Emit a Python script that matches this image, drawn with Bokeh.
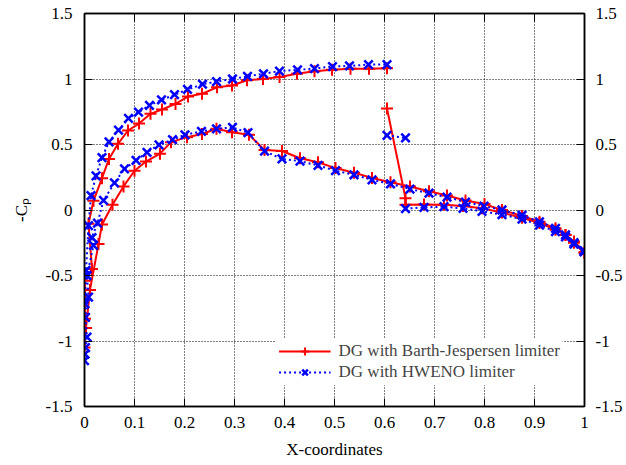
from bokeh.plotting import figure
from bokeh.models import LinearAxis, FixedTicker, Legend, LegendItem, Range1d
from bokeh.embed import file_html
from bokeh.resources import INLINE

nan = float("nan")

# DG with Barth-Jespersen limiter (path along the airfoil surface, NaN = break)
bj_x = [1.0, 0.979, 0.962, 0.942, 0.91, 0.875, 0.835, 0.8, 0.762, 0.725, 0.689, 0.651,
        0.612, 0.575, 0.539, 0.502, 0.467, 0.431, 0.395, 0.36, 0.329, 0.295, 0.264, 0.235,
        0.205, 0.173, 0.151, 0.123, 0.1, 0.078, 0.056, 0.035, 0.028, 0.011, 0.003, 0.0,
        0.001, 0.001, 0.015, 0.008, 0.018, 0.035, 0.049, 0.067, 0.087, 0.109, 0.132, 0.155,
        0.182, 0.207, 0.235, 0.265, 0.295, 0.325, 0.357, 0.39, 0.425, 0.46, 0.495, 0.532,
        0.569, 0.605, nan, 0.605, 0.642, 0.642, 0.679, 0.719, 0.757, 0.795, 0.835, 0.875,
        0.91, 0.942, 0.962, 0.979, 1.0]
bj_y = [-0.32, -0.24, -0.19, -0.14, -0.09, -0.045, 0.0, 0.045, 0.073, 0.11, 0.143, 0.18,
        0.212, 0.245, 0.285, 0.32, 0.365, 0.395, 0.45, 0.458, 0.575, 0.594, 0.62, 0.58,
        0.556, 0.518, 0.43, 0.37, 0.3, 0.18, 0.04, -0.11, -0.26, -0.61, -0.9, -1.05,
        -0.83, -0.54, -0.45, -0.105, 0.07, 0.243, 0.39, 0.505, 0.607, 0.66, 0.734, 0.767,
        0.81, 0.866, 0.887, 0.937, 0.95, 0.99, 1.0, 1.015, 1.04, 1.06, 1.07, 1.078,
        1.078, 1.083, nan, 0.775, 0.09, 0.04, 0.042, 0.04, 0.03, 0.014, -0.02, -0.06,
        -0.1, -0.15, -0.19, -0.25, -0.33]

# DG with HWENO limiter
hw_x = [0.999, 0.979, 0.962, 0.942, 0.91, 0.875, 0.835, 0.799, 0.762, 0.725, 0.689, 0.651,
        0.612, 0.575, 0.539, 0.502, 0.467, 0.431, 0.395, 0.36, 0.327, 0.296, 0.264, 0.234,
        0.201, 0.176, 0.149, 0.125, 0.103, 0.08, 0.06, 0.038, 0.026, 0.015, 0.018, 0.005,
        0.008, 0.002, 0.005, 0.001, 0.0, 0.002, 0.001, 0.003, 0.008, 0.013, 0.023, 0.035,
        0.049, 0.068, 0.088, 0.108, 0.13, 0.154, 0.18, 0.206, 0.236, 0.264, 0.296, 0.326,
        0.358, 0.39, 0.426, 0.46, 0.496, 0.53, 0.568, 0.605, nan, 0.605, 0.642, nan,
        0.642, 0.679, 0.719, 0.757, 0.795, 0.835, 0.875, 0.91, 0.942, 0.962, 0.979, 0.999]
hw_y = [-0.31, -0.25, -0.19, -0.14, -0.09, -0.04, 0.0, 0.03, 0.06, 0.098, 0.128, 0.16,
        0.2, 0.23, 0.269, 0.3, 0.34, 0.373, 0.39, 0.449, 0.59, 0.63, 0.62, 0.6,
        0.574, 0.538, 0.497, 0.44, 0.378, 0.314, 0.207, 0.073, -0.1, -0.21, -0.27, -0.5,
        -0.665, -0.82, -0.97, -1.1, -1.15, -1.05, -0.716, -0.46, -0.12, 0.11, 0.26, 0.4,
        0.52, 0.61, 0.7, 0.747, 0.798, 0.84, 0.88, 0.92, 0.96, 0.98, 1.0, 1.02,
        1.04, 1.06, 1.07, 1.08, 1.095, 1.1, 1.11, 1.11, nan, 0.57, 0.55, nan,
        0.01, 0.02, 0.025, 0.012, -0.01, -0.035, -0.07, -0.115, -0.165, -0.205, -0.26, -0.32]

x_ticks = [0, 0.1, 0.2, 0.3, 0.4, 0.5, 0.6, 0.7, 0.8, 0.9, 1]
x_tick_labels = ["0", "0.1", "0.2", "0.3", "0.4", "0.5", "0.6", "0.7", "0.8", "0.9", "1"]
y_ticks = [-1.5, -1, -0.5, 0, 0.5, 1, 1.5]
y_tick_labels = ["-1.5", "-1", "-0.5", "0", "0.5", "1", "1.5"]

FONT = "Liberation Serif"

p = figure(width=625, height=464, x_range=Range1d(0, 1), y_range=Range1d(-1.5, 1.5),
           output_backend="svg", toolbar_location=None,
           min_border_left=84, min_border_right=41, min_border_top=13, min_border_bottom=58,
           x_axis_label="X-coordinates", y_axis_label="-Cₚ")
p.background_fill_color = "white"
p.border_fill_color = "white"
p.outline_line_color = "black"
p.outline_line_width = 1.5


def style_axis(ax, ticks, labels, show_labels=True):
    ax.ticker = FixedTicker(ticks=ticks)
    ax.major_label_overrides = {t: l for t, l in zip(ticks, labels)}
    ax.major_tick_in = 8
    ax.major_tick_out = 0
    ax.minor_tick_in = 0
    ax.minor_tick_out = 0
    ax.axis_line_color = "black"
    ax.axis_line_width = 1.5
    ax.major_tick_line_color = "black"
    ax.major_tick_line_width = 1
    ax.major_label_text_font = FONT
    ax.major_label_text_font_size = "17px" if show_labels else "0px"
    ax.major_label_text_color = "black"
    ax.major_label_standoff = 10 if show_labels else 0
    ax.axis_label_text_font = FONT
    ax.axis_label_text_font_size = "17px"
    ax.axis_label_text_font_style = "normal"
    ax.axis_label_text_color = "black"


style_axis(p.xaxis[0], x_ticks, x_tick_labels)
style_axis(p.yaxis[0], y_ticks, y_tick_labels)
p.xaxis[0].axis_label_standoff = 9
p.yaxis[0].axis_label_standoff = 12
p.yaxis[0].major_label_standoff = 12

ax_r = LinearAxis()
style_axis(ax_r, y_ticks, y_tick_labels)
ax_r.major_label_standoff = 11
p.add_layout(ax_r, "right")

ax_t = LinearAxis()
style_axis(ax_t, x_ticks, ["" for _ in x_ticks], show_labels=False)
p.add_layout(ax_t, "above")

p.xgrid.ticker = FixedTicker(ticks=x_ticks)
p.ygrid.ticker = FixedTicker(ticks=y_ticks)
for g in (p.xgrid[0], p.ygrid[0]):
    g.grid_line_color = "black"
    g.grid_line_dash = "1 2"
    g.grid_line_width = 1
    g.grid_line_alpha = 1

r1l = p.line(bj_x, bj_y, line_color="#ff0000", line_width=2)
r1s = p.scatter(bj_x, bj_y, marker="cross", size=12, line_color="#ff0000", line_width=2)
r2l = p.line(hw_x, hw_y, line_color="#0000ff", line_width=2, line_dash="2 3")
r2s = p.scatter(hw_x, hw_y, marker="x", size=12, line_color="#0000ff", line_width=2.5)

legend = Legend(items=[LegendItem(label="DG with Barth-Jespersen limiter", renderers=[r1l, r1s]),
                       LegendItem(label="DG with HWENO limiter", renderers=[r2l, r2s])],
                location="bottom_right", label_text_font=FONT, label_text_font_size="17px",
                glyph_width=52, glyph_height=20, spacing=1, padding=3, margin=21,
                border_line_alpha=0, background_fill_color="white", background_fill_alpha=1,
                label_standoff=8, label_height=20)
p.add_layout(legend)

open("out.html", "w").write(file_html(p, INLINE))
